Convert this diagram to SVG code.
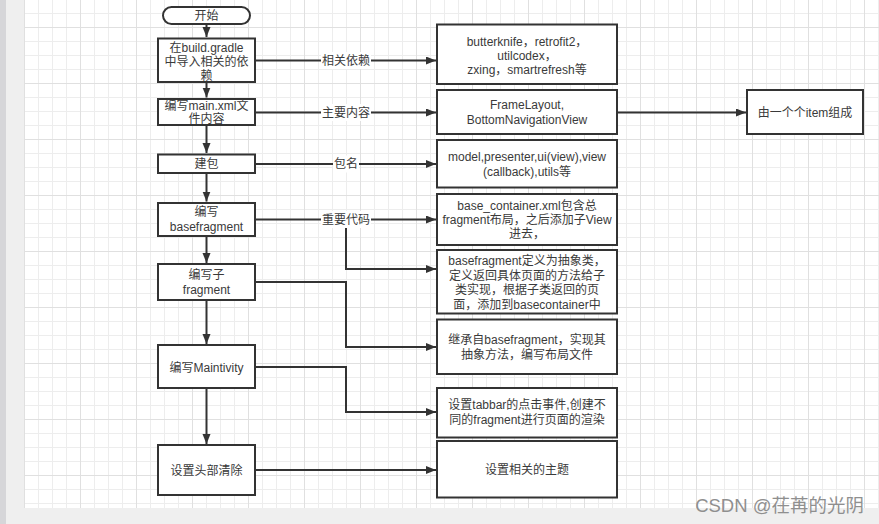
<svg xmlns="http://www.w3.org/2000/svg" width="879" height="524" viewBox="0 0 879 524">
<style>
.box{fill:#fff;stroke:#333;stroke-width:2}
.t{font-family:"Liberation Sans","Noto Sans CJK SC",sans-serif;font-size:12px;fill:#3a3a3a;text-anchor:middle;dominant-baseline:central}
.ln{fill:none;stroke:#333;stroke-width:2}
.lb{fill:#fff}
</style>
<defs>
<pattern id="grid" x="24" y="27" width="56" height="56" patternUnits="userSpaceOnUse">
<path d="M14.5 0V56M28.5 0V56M42.5 0V56M0 14.5H56M0 28.5H56M0 42.5H56" stroke="#ededed" stroke-width="1" fill="none"/>
<path d="M0.5 0V56M0 0.5H56" stroke="#e0e0e0" stroke-width="1" fill="none"/>
</pattern>
<marker id="ah" markerUnits="userSpaceOnUse" markerWidth="11" markerHeight="9" refX="10" refY="4" orient="auto">
<path d="M0,0 L10,4 L0,8 z" fill="#333"/>
</marker>
</defs>
<rect x="0" y="0" width="879" height="524" fill="#efefef"/>
<rect x="0" y="0" width="6" height="524" fill="#d6d6d9"/>
<rect x="24" y="0" width="855" height="508" fill="#fff"/>
<rect x="24" y="0" width="855" height="508" fill="url(#grid)"/>

<g id="connectors">
<path class="ln" d="M206.5 24V37" marker-end="url(#ah)"/>
<path class="ln" d="M206.5 82V97.5" marker-end="url(#ah)"/>
<path class="ln" d="M206.5 125V153" marker-end="url(#ah)"/>
<path class="ln" d="M206.5 173V201.5" marker-end="url(#ah)"/>
<path class="ln" d="M206.5 236V263" marker-end="url(#ah)"/>
<path class="ln" d="M206.5 300V344" marker-end="url(#ah)"/>
<path class="ln" d="M206.5 388V444" marker-end="url(#ah)"/>
<path class="ln" d="M255 60.5H436" marker-end="url(#ah)"/>
<path class="ln" d="M255 112.5H436" marker-end="url(#ah)"/>
<path class="ln" d="M617 112.5H746" marker-end="url(#ah)"/>
<path class="ln" d="M255 164H436" marker-end="url(#ah)"/>
<path class="ln" d="M255 219.5H436" marker-end="url(#ah)"/>
<path class="ln" d="M346 219.5V269H436" marker-end="url(#ah)"/>
<path class="ln" d="M255 282H346V347H436" marker-end="url(#ah)"/>
<path class="ln" d="M255 367H346V412H436" marker-end="url(#ah)"/>
<path class="ln" d="M255 470H436" marker-end="url(#ah)"/>
<rect class="lb" x="321" y="52" width="50" height="17"/>
<text class="t" x="346" y="60.5">相关依赖</text>
<rect class="lb" x="321" y="104" width="50" height="17"/>
<text class="t" x="346" y="112.5">主要内容</text>
<rect class="lb" x="333" y="155.5" width="26" height="17"/>
<text class="t" x="346" y="164">包名</text>
<rect class="lb" x="321" y="211" width="50" height="17"/>
<text class="t" x="346" y="219.5">重要代码</text>
</g>

<g id="start">
<rect class="box" x="163" y="7" width="87" height="17" rx="8.5"/>
<text class="t" x="206.5" y="15.5">开始</text>
</g>
<g id="n-gradle">
<rect class="box" x="158" y="38.5" width="97" height="43.5"/>
<text class="t" x="206.5" y="47.5">在build.gradle</text>
<text class="t" x="206.5" y="62">中导入相关的依</text>
<text class="t" x="206.5" y="75.5">赖</text>
</g>
<g id="n-mainxml">
<rect class="box" x="158" y="99" width="97" height="26"/>
<text class="t" x="206.5" y="105.5">编写main.xml文</text>
<text class="t" x="206.5" y="119">件内容</text>
</g>
<g id="n-pkg">
<rect class="box" x="158" y="154.5" width="97" height="18.5"/>
<text class="t" x="206.5" y="164">建包</text>
</g>
<g id="n-basefrag">
<rect class="box" x="158" y="203" width="97" height="33"/>
<text class="t" x="206.5" y="212">编写</text>
<text class="t" x="206.5" y="227">basefragment</text>
</g>
<g id="n-subfrag">
<rect class="box" x="158" y="264" width="97" height="36"/>
<text class="t" x="206.5" y="275">编写子</text>
<text class="t" x="206.5" y="290">fragment</text>
</g>
<g id="n-main">
<rect class="box" x="158" y="345" width="97" height="43"/>
<text class="t" x="206.5" y="368">编写Maintivity</text>
</g>
<g id="n-header">
<rect class="box" x="158" y="445" width="97" height="50"/>
<text class="t" x="206.5" y="470.5">设置头部清除</text>
</g>

<g id="r-deps">
<rect class="box" x="437" y="24.5" width="180" height="59.5"/>
<text class="t" x="527" y="41.5">butterknife，retrofit2，</text>
<text class="t" x="527" y="56">utilcodex，</text>
<text class="t" x="527" y="70">zxing，smartrefresh等</text>
</g>
<g id="r-layout">
<rect class="box" x="437" y="90" width="180" height="44"/>
<text class="t" x="527" y="105">FrameLayout,</text>
<text class="t" x="527" y="120">BottomNavigationView</text>
</g>
<g id="r-item">
<rect class="box" x="747" y="90" width="116" height="44"/>
<text class="t" x="805" y="113">由一个个item组成</text>
</g>
<g id="r-pkg">
<rect class="box" x="437" y="140" width="180" height="47.5"/>
<text class="t" x="527" y="156.5">model,presenter,ui(view),view</text>
<text class="t" x="527" y="171.5">(callback),utils等</text>
</g>
<g id="r-container">
<rect class="box" x="437" y="194" width="180" height="51"/>
<text class="t" x="527" y="206">base_container.xml包含总</text>
<text class="t" x="527" y="220">fragment布局，之后添加子View</text>
<text class="t" x="527" y="233.5">进去，</text>
</g>
<g id="r-abstract">
<rect class="box" x="437" y="250" width="180" height="63.5"/>
<text class="t" x="527" y="261">basefragment定义为抽象类，</text>
<text class="t" x="527" y="276">定义返回具体页面的方法给子</text>
<text class="t" x="527" y="290">类实现，根据子类返回的页</text>
<text class="t" x="527" y="304.5">面，添加到basecontainer中</text>
</g>
<g id="r-inherit">
<rect class="box" x="437" y="319.5" width="180" height="54.5"/>
<text class="t" x="527" y="340">继承自basefragment，实现其</text>
<text class="t" x="527" y="355">抽象方法，编写布局文件</text>
</g>
<g id="r-tabbar">
<rect class="box" x="437" y="388" width="180" height="49.5"/>
<text class="t" x="527" y="405">设置tabbar的点击事件,创建不</text>
<text class="t" x="527" y="420">同的fragment进行页面的渲染</text>
</g>
<g id="r-theme">
<rect class="box" x="437" y="441" width="180" height="56.5"/>
<text class="t" x="527" y="470">设置相关的主题</text>
</g>
<text x="864" y="512" font-family="'Liberation Sans','Noto Sans CJK SC',sans-serif" font-size="18.5" fill="#8f8f8f" text-anchor="end">CSDN @茌苒的光阴</text>
</svg>
